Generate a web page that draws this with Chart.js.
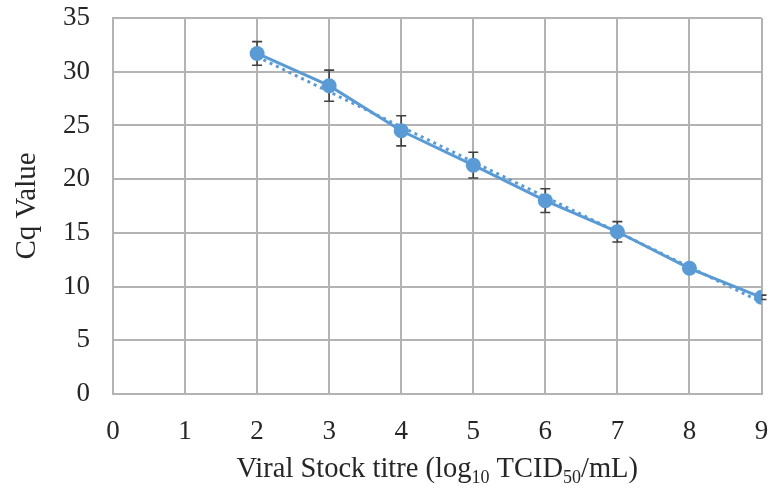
<!DOCTYPE html>
<html><head><meta charset="utf-8">
<script src="https://cdn.jsdelivr.net/npm/chart.js@4/dist/chart.umd.min.js"></script>
<style>html,body{margin:0;padding:0;background:#fff}#wrap{width:769px;height:492px}</style>
</head><body><div id="wrap"><canvas id="c" width="769" height="492"></canvas></div>
<script>
// Data
const titreLog = [2, 3, 4, 5, 6, 7, 8, 9];
const cqMean   = [31.7, 28.7, 24.5, 21.3, 18.0, 15.1, 11.7, 9.0];
const cqError  = [1.1, 1.45, 1.4, 1.2, 1.1, 0.95, 0.3, 0.2];
const trendX   = [2, 9];
const trendY   = [31.4, 8.55];
const xTickMin = 0, xTickMax = 9, xTickStep = 1;
const yTickMin = 0, yTickMax = 35, yTickStep = 5;
const yTitle = 'Cq Value';
const xTitleParts = [['Viral Stock titre (log', false], ['10', true], [' TCID', false], ['50', true], ['/mL)', false]];

const FONT = "'Liberation Serif', 'Times New Roman', serif";
const TEXT = '#262626';
const GRID = '#b3b3b3';
const BLUE = '#5b9bd5';

const errorBars = {
  id: 'errorBars',
  beforeDatasetsDraw(chart) {
    const {ctx, scales: {x, y}} = chart;
    ctx.save();
    ctx.strokeStyle = '#404040';
    ctx.lineWidth = 1.6;
    titreLog.forEach((t, i) => {
      const px = x.getPixelForValue(t);
      const top = y.getPixelForValue(cqMean[i] + cqError[i]);
      const bot = y.getPixelForValue(cqMean[i] - cqError[i]);
      ctx.beginPath();
      ctx.moveTo(px, top); ctx.lineTo(px, bot);
      ctx.moveTo(px - 5, top); ctx.lineTo(px + 5, top);
      ctx.moveTo(px - 5, bot); ctx.lineTo(px + 5, bot);
      ctx.stroke();
    });
    ctx.restore();
  }
};

const xTitlePlugin = {
  id: 'xTitle',
  afterDraw(chart) {
    const {ctx, chartArea} = chart;
    const big = "28.5px " + FONT, small = "18px " + FONT;
    ctx.save();
    ctx.fillStyle = TEXT;
    ctx.textBaseline = 'alphabetic';
    ctx.textAlign = 'left';
    let total = 0;
    const widths = xTitleParts.map(([s, sub]) => { ctx.font = sub ? small : big; const w = ctx.measureText(s).width; total += w; return w; });
    let cx = (chartArea.left + chartArea.right) / 2 - total / 2;
    const base = 477;
    xTitleParts.forEach(([s, sub], i) => {
      ctx.font = sub ? small : big;
      ctx.fillText(s, cx, sub ? base + 6 : base);
      cx += widths[i];
    });
    ctx.restore();
  }
};

new Chart(document.getElementById('c'), {
  type: 'scatter',
  data: {
    datasets: [
      {
        label: 'Cq',
        data: titreLog.map((t, i) => ({x: t, y: cqMean[i]})),
        showLine: true,
        borderColor: BLUE,
        backgroundColor: BLUE,
        borderWidth: 3,
        pointRadius: 7.5,
        pointHoverRadius: 7.5,
        pointBorderWidth: 0,
        order: 2
      },
      {
        label: 'Trend',
        data: trendX.map((t, i) => ({x: t, y: trendY[i]})),
        showLine: true,
        borderColor: BLUE,
        borderWidth: 3,
        borderDash: [3, 4],
        pointRadius: 0,
        order: 1
      }
    ]
  },
  options: {
    responsive: false,
    animation: false,
    layout: {padding: {top: 18, right: 6, left: 0, bottom: 0}},
    plugins: {legend: {display: false}, tooltip: {enabled: false}},
    scales: {
      x: {
        type: 'linear', min: xTickMin, max: xTickMax,
        ticks: {stepSize: xTickStep, color: TEXT, font: {family: FONT, size: 27}, padding: 22},
        grid: {color: GRID, lineWidth: 2, drawTicks: false},
        border: {color: GRID, width: 2},
        afterFit(s) { s.height = 98; s.paddingLeft = 0; s.paddingRight = 0; }
      },
      y: {
        min: yTickMin, max: yTickMax,
        ticks: {stepSize: yTickStep, color: TEXT, font: {family: FONT, size: 27}, padding: 23},
        grid: {color: GRID, lineWidth: 2, drawTicks: false},
        border: {color: GRID, width: 2},
        title: {display: true, text: yTitle, color: TEXT, font: {family: FONT, size: 29}, padding: {top: 10, bottom: 0}},
        afterFit(s) { s.width = 113; s.paddingTop = 0; s.paddingBottom = 0; }
      }
    }
  },
  plugins: [errorBars, xTitlePlugin]
});
</script>
</body></html>
